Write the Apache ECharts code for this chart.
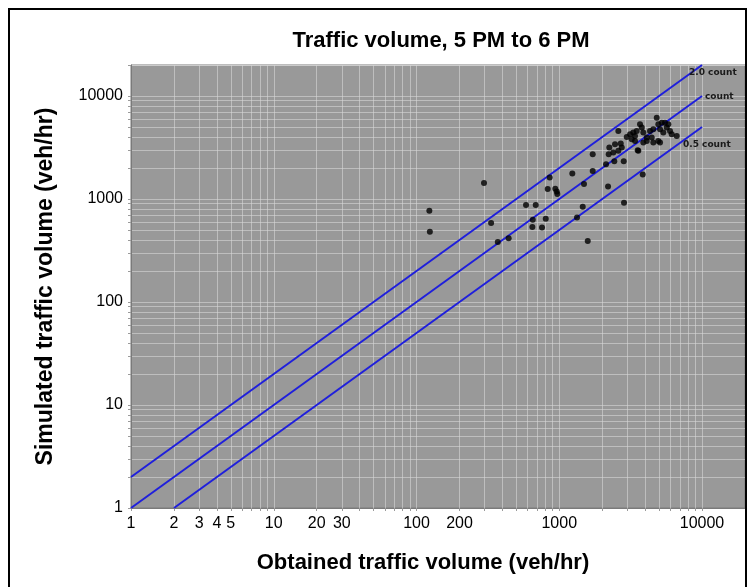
<!DOCTYPE html>
<html><head><meta charset="utf-8">
<script src="https://cdn.jsdelivr.net/npm/echarts@6/dist/echarts.min.js"></script>
<style>html,body{margin:0;padding:0;background:#fff}#c{width:748px;height:587px}</style>
</head><body><div id="c"></div>
<script>
// Tick labels
const xTickLabels = [1, 2, 3, 4, 5, 10, 20, 30, 100, 200, 1000, 10000];
const yTickLabels = [1, 10, 100, 1000, 10000];

// Scatter data
const obtained = [123, 124, 297, 333, 371, 442, 585, 684, 652, 648, 757, 804, 857, 830, 938, 960, 969,
  1234, 1490, 1460, 1331, 1583, 1715, 1715, 2126, 2196, 2842, 3842, 2430, 2828, 2220, 2242, 2593, 3544,
  2391, 2593, 2458, 2695, 2739, 2969, 3131, 3302, 3393, 3487, 3218, 3393, 3579, 3679, 3782, 3880, 4099,
  3880, 4099, 4322, 4558, 4442, 4817, 4943, 5221, 5080, 5357, 4943, 5080, 5506, 5807, 5658, 5968, 6134,
  6650, 4558];
const simulated = [769, 482, 1427, 585, 383, 415, 874, 874, 630, 535, 530, 644, 1618, 1248, 1257, 1183, 1117,
  1768, 1396, 841, 663, 391, 2725, 1866, 2180, 1323, 920, 1729, 2331, 2331, 2725, 3157, 4582, 2979,
  2825, 2933, 3405, 3452, 3157, 4008, 4256, 4412, 4099, 4582, 3807, 3665, 2933, 5320, 4932, 4412, 3946,
  3529, 3665, 4582, 4759, 3946, 6166, 5320, 5514, 4759, 4412, 3665, 3529, 5514, 5320, 4932, 4582, 4256,
  4099, 3529];

// Reference lines (ratio simulated/obtained)
const refNames = ['2.0 count', 'count', '0.5 count'];
const refX = [[1, 10000], [1, 10000], [2, 10000]];
const refY = [[2, 20000], [1, 10000], [1, 5000]];
const refLabelOffsets = [[-13, 8], [3, 1], [-19, 18]];

const axisMin = 1, axisMax = 20000;
const minorVals = [];
for (let d = 1; d <= 10000; d *= 10) for (let m = 1; m <= 9; m++) { if (m * d <= axisMax) minorVals.push(m * d); }
minorVals.push(20000);

const chart = echarts.init(document.getElementById('c'), null, { renderer: 'canvas' });
const FONT = 'Liberation Sans, Arial, sans-serif';

function makeAxis(labels, name, isY) {
  return {
    type: 'log', logBase: 10, min: axisMin, max: axisMax,
    name: name, nameLocation: 'middle', nameGap: isY ? 74 : 44,
    nameTextStyle: { fontFamily: FONT, fontWeight: 'bold', fontSize: isY ? 23 : 22, color: '#000',
      padding: isY ? [0, 0, 0, 0] : [0, 30, 0, 0] },
    axisLine: { show: true, lineStyle: { color: '#7a7a7a', width: 1 } },
    axisTick: { show: true, customValues: minorVals, length: 3, inside: false, lineStyle: { color: '#9a9a9a' } },
    axisLabel: { customValues: labels, fontFamily: FONT, fontSize: 16, color: '#000', margin: 8,
      formatter: v => String(Math.round(v)) },
    splitLine: { show: true, lineStyle: { color: 'rgba(215,215,215,0.6)', width: 1 } },
    minorTick: { show: false }, minorSplitLine: { show: false }
  };
}

const series = [{
  type: 'scatter', name: 'points',
  data: obtained.map((v, i) => [v, simulated[i]]),
  symbolSize: 6, itemStyle: { color: '#000' }, z: 5, silent: true
}];
refNames.forEach((n, i) => {
  series.push({
    type: 'line', name: n,
    data: refX[i].map((x, j) => [x, refY[i][j]]),
    showSymbol: false, symbol: 'none', silent: true,
    lineStyle: { color: '#1f1fdc', width: 2 },
    endLabel: { show: true, formatter: n, fontFamily: 'DejaVu Sans, sans-serif', fontWeight: 'bold',
      fontSize: 9, color: '#1a1a1a', distance: 0, offset: refLabelOffsets[i], align: 'left', verticalAlign: 'middle' },
    z: 4
  });
});

chart.setOption({
  animation: false,
  backgroundColor: '#fff',
  title: { text: 'Traffic volume, 5 PM to 6 PM', left: 436, textAlign: 'center', top: 25,
    textStyle: { fontFamily: FONT, fontWeight: 'bold', fontSize: 22, color: '#000' } },
  grid: { left: 131, top: 65, right: 3, bottom: 79, show: true, backgroundColor: '#999999',
    borderColor: '#7a7a7a', borderWidth: 1, containLabel: false, outerBoundsMode: 'none' },
  xAxis: makeAxis(xTickLabels, 'Obtained traffic volume (veh/hr)', false),
  yAxis: makeAxis(yTickLabels, 'Simulated traffic volume (veh/hr)', true),
  graphic: [{ type: 'rect', shape: { x: 9, y: 9, width: 737, height: 620 }, silent: true,
    style: { fill: 'none', stroke: '#000', lineWidth: 2 }, z: 100 }],
  series: series
});
</script></body></html>
